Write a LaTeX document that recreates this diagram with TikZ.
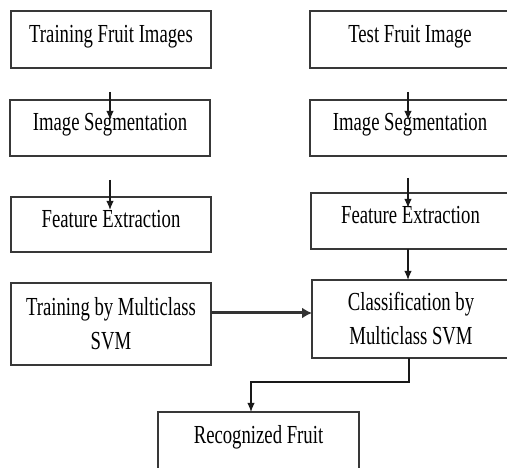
\documentclass[tikz,border=0pt]{standalone}
\usepackage{fontspec}
\setmainfont{Liberation Serif}[FakeStretch=0.72]
\usetikzlibrary{arrows.meta}
\begin{document}
\begin{tikzpicture}[x=1pt,y=-1pt,
  box/.style={draw=black!78,line width=1.3pt,rectangle,anchor=north west,inner sep=0pt,outer sep=0pt,
    font=\fontsize{26}{34}\selectfont,text=black},
  oneline/.style={text height=18pt,text depth=12pt},
  twoline/.style={align=center},
  arr/.style={draw=black!90,line width=1.4pt,-{Latex[length=9pt,width=7.5pt]}},
  thickarr/.style={draw=black!80,line width=3pt,-{Latex[length=10pt,width=11pt]}}]
\clip (0,0) rectangle (507,468);
\fill[white] (0,0) rectangle (507,468);
% left column
\node[box,oneline,minimum width=200pt,minimum height=57pt] (a1) at (11,11) {Training Fruit Images};
\node[box,oneline,minimum width=200pt,minimum height=56pt] (a2) at (10,100) {Image Segmentation};
\node[box,oneline,minimum width=200pt,minimum height=55pt] (a3) at (11,197) {Feature Extraction};
\node[box,twoline,minimum width=200pt,minimum height=82pt] (a4) at (11,283) {Training by Multiclass\\SVM};
% right column
\node[box,oneline,minimum width=200pt,minimum height=57pt] (b1) at (310,11) {Test Fruit Image};
\node[box,oneline,minimum width=200pt,minimum height=56pt] (b2) at (310,100) {Image Segmentation};
\node[box,oneline,minimum width=199pt,minimum height=56pt] (b3) at (311,193) {Feature Extraction};
\node[box,twoline,minimum width=198pt,minimum height=78pt] (b4) at (312,280) {Classification by\\Multiclass SVM};
% result
\node[box,oneline,minimum width=201pt,minimum height=58pt,text height=31pt,text depth=27pt] (r) at (158,412) {Recognized Fruit};
% connectors
\draw[arr] ([xshift=-1pt,yshift=-24pt]a1.south) -- ([xshift=-1pt,yshift=-20pt]a1.south |- a2.north);
\draw[arr] ([yshift=-24pt]a2.south) -- ([yshift=-13pt]a2.south |- a3.north);
\draw[arr] ([xshift=-2pt,yshift=-24pt]b1.south) -- ([xshift=-2pt,yshift=-20pt]b2.north);
\draw[arr] ([xshift=-2pt,yshift=-22pt]b2.south) -- ([xshift=-2pt,yshift=-15pt]b2.south |- b3.north);
\draw[arr] ([xshift=-2.5pt]b3.south) -- ([xshift=-2.5pt]b3.south |- b4.north);
\draw[thickarr] ([yshift=11pt]a4.east) -- ([yshift=11pt]a4.east -| b4.west);
\draw[arr] ([xshift=-2pt]b4.south) -- ++(0,24) -| ([xshift=-7.5pt]r.north);
\end{tikzpicture}
\end{document}
